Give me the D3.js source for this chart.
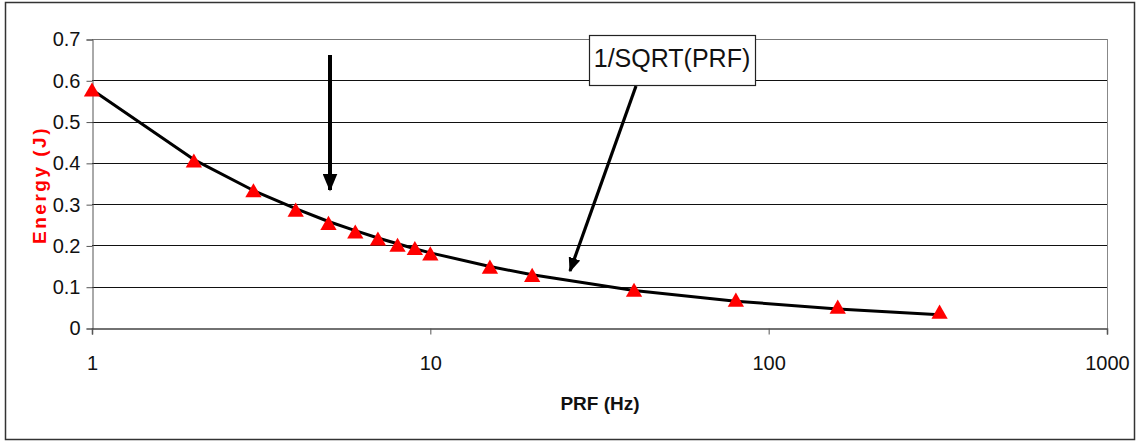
<!DOCTYPE html>
<html>
<head>
<meta charset="utf-8">
<script src="https://cdn.jsdelivr.net/npm/d3@7"></script>
<style>
  body { margin: 0; background: #fff; }
  svg { display: block; font-family: "Liberation Sans", Arial, sans-serif; }
</style>
</head>
<body>
<svg id="chart" width="1138" height="442"></svg>
<script>
// measured points (triangles)
let prf = [1, 2, 3, 4, 5, 6, 7, 8, 9, 10, 15, 20, 40, 80, 160, 320];
let energy = [0.572, 0.400, 0.328, 0.281, 0.249, 0.228, 0.211, 0.196, 0.188, 0.175, 0.143, 0.123, 0.087, 0.063, 0.046, 0.034];
// 1/SQRT(PRF) curve values
let curve = [0.577, 0.408, 0.333, 0.289, 0.258, 0.236, 0.218, 0.204, 0.192, 0.182, 0.149, 0.129, 0.091, 0.065, 0.046, 0.032];
let xTicks = [1, 10, 100, 1000];
let yTicks = [0, 0.1, 0.2, 0.3, 0.4, 0.5, 0.6, 0.7];

let svg = d3.select("#chart"),
    marge = {top: 39, left: 92, right: 1107, bottom: 328};

// outer frame
svg.append("rect")
    .attr("x", 5.5).attr("y", 2.5)
    .attr("width", 1129).attr("height", 437)
    .attr("fill", "none").attr("stroke", "#333").attr("stroke-width", 1.5);

let x = d3.scaleLog().domain([1, 1000]).range([marge.left, marge.right]);
let y = d3.scaleLinear().domain([0, 0.7]).range([marge.bottom, marge.top]);

let g = svg.append("g");

// gridlines
g.selectAll(".grid")
    .data(yTicks.filter(d => d > 0))
    .enter().append("line")
    .attr("x1", marge.left).attr("x2", marge.right)
    .attr("y1", d => Math.round(y(d)) + 0.5).attr("y2", d => Math.round(y(d)) + 0.5)
    .attr("stroke", d => d === 0.7 ? "#777" : "#111")
    .attr("stroke-width", 1);

// right border of plot area
g.append("line")
    .attr("x1", marge.right + 0.5).attr("x2", marge.right + 0.5)
    .attr("y1", marge.top).attr("y2", marge.bottom)
    .attr("stroke", "#888");

// y axis
let yAxis = g.append("g")
    .attr("transform", "translate(" + (marge.left + 0.5) + ",0.5)")
    .call(d3.axisLeft(y).tickValues(yTicks).tickSize(6).tickPadding(6).tickFormat(d3.format("")));
yAxis.select(".domain").attr("stroke", "#555");
yAxis.selectAll(".tick line").attr("stroke", "#555");
yAxis.selectAll("text").attr("font-size", 20).attr("fill", "#111").attr("font-family", "Liberation Sans, Arial");

// x axis
let xAxis = g.append("g")
    .attr("transform", "translate(0," + (marge.bottom + 0.5) + ")")
    .call(d3.axisBottom(x).tickValues(xTicks).tickSize(6).tickPadding(21).tickFormat(d3.format("")));
xAxis.select(".domain").attr("stroke", "#444").attr("stroke-width", 1.5);
xAxis.selectAll(".tick line").attr("stroke", "#555");
xAxis.selectAll("text").attr("font-size", 20).attr("fill", "#111").attr("font-family", "Liberation Sans, Arial");

// axis titles
svg.append("text")
    .attr("transform", "translate(46,185) rotate(-90)")
    .attr("text-anchor", "middle")
    .attr("font-size", 19).attr("font-weight", "bold")
    .attr("letter-spacing", 2.5)
    .attr("fill", "#f00")
    .text("Energy (J)");

svg.append("text")
    .attr("x", 600).attr("y", 410)
    .attr("text-anchor", "middle")
    .attr("font-size", 19).attr("font-weight", "bold")
    .attr("fill", "#111")
    .text("PRF (Hz)");

// curve
let line = d3.line().x((d, i) => x(prf[i])).y(d => y(d));
g.append("path")
    .datum(curve)
    .attr("fill", "none")
    .attr("stroke", "#000")
    .attr("stroke-width", 3)
    .attr("stroke-linejoin", "round")
    .attr("d", line);

// triangles
let tri = d3.symbol().type(d3.symbolTriangle).size(115);
g.selectAll(".pt")
    .data(energy)
    .enter().append("path")
    .attr("transform", (d, i) => "translate(" + x(prf[i]) + "," + y(d) + ")")
    .attr("d", tri)
    .attr("fill", "#f00");

// arrows
let defs = svg.append("defs");
defs.append("marker")
    .attr("id", "head")
    .attr("viewBox", "0 0 12 10")
    .attr("refX", 11).attr("refY", 5)
    .attr("markerWidth", 4.5).attr("markerHeight", 3.75)
    .attr("markerUnits", "strokeWidth")
    .attr("orient", "auto")
    .append("path").attr("d", "M0,0 L12,5 L0,10 Z").attr("fill", "#000");

svg.append("line")
    .attr("x1", 330).attr("y1", 55).attr("x2", 330).attr("y2", 190)
    .attr("stroke", "#000").attr("stroke-width", 4)
    .attr("marker-end", "url(#head)");

svg.append("line")
    .attr("x1", 636).attr("y1", 86).attr("x2", 570).attr("y2", 271)
    .attr("stroke", "#000").attr("stroke-width", 3.2)
    .attr("marker-end", "url(#head)");

// annotation box
svg.append("rect")
    .attr("x", 589.5).attr("y", 35.5)
    .attr("width", 166).attr("height", 50)
    .attr("fill", "#fff").attr("stroke", "#222").attr("stroke-width", 1.2);
svg.append("text")
    .attr("x", 672).attr("y", 67)
    .attr("text-anchor", "middle")
    .attr("font-size", 25)
    .attr("fill", "#111")
    .text("1/SQRT(PRF)");
</script>
</body>
</html>
